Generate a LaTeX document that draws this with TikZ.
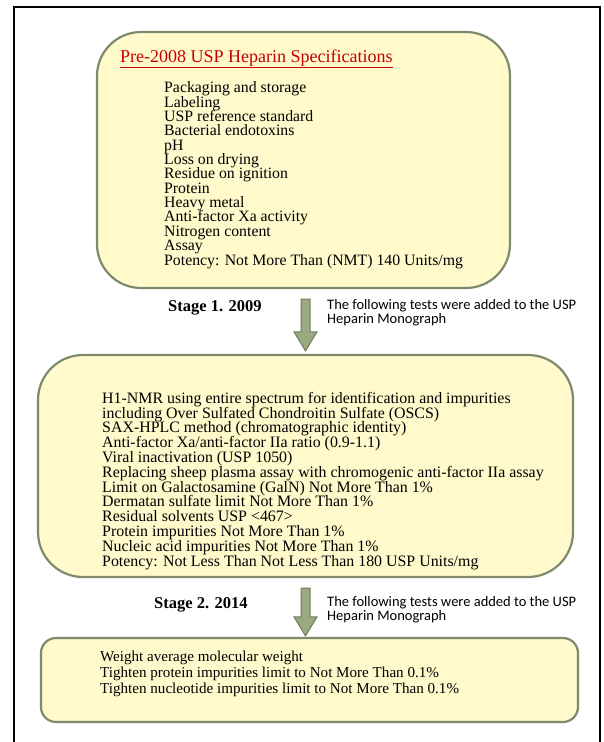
\documentclass[tikz,border=0pt]{standalone}
\usepackage{fontspec}
\setmainfont{Liberation Serif}
\newfontfamily\notefont{Carlito}
\usetikzlibrary{calc}

\definecolor{boxfill}{HTML}{FFF9CC}
\definecolor{boxline}{HTML}{7D8B6C}
\definecolor{arrowfill}{HTML}{9AA982}
\definecolor{arrowline}{HTML}{6E7E58}
\definecolor{titlered}{HTML}{C80000}

\newcommand{\tightlines}{\lineskiplimit=-20pt\relax}

\tikzset{
  specbox/.style={draw=boxline, fill=boxfill, line width=2.2pt, inner sep=0pt},
  listtext/.style={anchor=base west, align=left, inner sep=0pt},
  stagetext/.style={anchor=base west, inner sep=0pt, font=\fontsize{16.5}{18}\selectfont\bfseries},
  notetext/.style={anchor=base west, align=left, inner sep=0pt, font=\notefont\fontsize{14.5}{13.5}\selectfont},
  blockarrow/.style={draw=arrowline, fill=arrowfill, line width=1pt, line join=miter}
}

% block arrow from #1 (top of shaft) down to #2 (tip)
\newcommand{\stagearrow}[2]{%
  \draw[blockarrow] ($(#1)+(-4.5,0)$) -- ($(#2)+(-4.5,-19)$) -- ($(#2)+(-11.5,-19)$) -- (#2)
    -- ($(#2)+(11.5,-19)$) -- ($(#2)+(4.5,-19)$) -- ($(#1)+(4.5,0)$) -- cycle;}

\begin{document}
\begin{tikzpicture}[x=1pt, y=-1pt]
	\useasboundingbox (0,0) rectangle (603,742);
	
	% Outer frame (open at the bottom)
	\draw[line width=2pt] (14,742) -- (14,7) -- (600.5,7);
	\draw[line width=1.2pt] (600,7) -- (600,742);
	
	% --- BOX 1: pre-2008 specifications ---
	% (base of a multi-line node = its last line)
	\node[specbox, rounded corners=44pt, minimum width=413pt, minimum height=256pt] (box1) at (303.5,160) {};
	\node[anchor=base west, inner sep=0pt, text=titlered, font=\fontsize{18}{20}\selectfont] (title1) at (120,62)
		{\underline{Pre-2008 USP Heparin Specifications}};
	\node[listtext, font=\fontsize{15.8}{14.35}\selectfont\tightlines] (list1) at (164,265) {%
		Packaging and storage\\
		Labeling\\
		USP reference standard\\
		Bacterial endotoxins\\
		pH\\
		Loss on drying\\
		Residue on ignition\\
		Protein\\
		Heavy metal\\
		Anti-factor Xa activity\\
		Nitrogen content\\
		Assay\\
		Potency: Not More Than (NMT) 140 Units/mg};
	
	% --- STAGE 1 ---
	\node[stagetext] (stage1) at (168,311) {Stage 1. 2009};
	\node[notetext] (note1) at (327,323) {The following tests were added to the USP\\Heparin Monograph};
	
	% --- BOX 2: 2009 additions ---
	\node[specbox, rounded corners=45pt, minimum width=535pt, minimum height=222pt] (box2) at (305.5,466) {};
	\node[listtext, font=\fontsize{15.9}{14.8}\selectfont\tightlines] (list2) at (102,566) {%
		H1-NMR using entire spectrum for identification and impurities\\
		including Over Sulfated Chondroitin Sulfate (OSCS)\\
		SAX-HPLC method (chromatographic identity)\\
		Anti-factor Xa/anti-factor IIa ratio (0.9-1.1)\\
		Viral inactivation (USP 1050)\\
		Replacing sheep plasma assay with chromogenic anti-factor IIa assay\\
		Limit on Galactosamine (GalN) Not More Than 1\%\\
		Dermatan sulfate limit Not More Than 1\%\\
		Residual solvents USP <467>\\
		Protein impurities Not More Than 1\%\\
		Nucleic acid impurities Not More Than 1\%\\
		Potency: Not Less Than Not Less Than 180 USP Units/mg};
	
	% --- STAGE 2 ---
	\node[stagetext] (stage2) at (154,608) {Stage 2. 2014};
	\node[notetext] (note2) at (327,620) {The following tests were added to the USP\\Heparin Monograph};
	
	% --- BOX 3: 2014 additions ---
	\node[specbox, rounded corners=15pt, minimum width=537pt, minimum height=84pt] (box3) at (309.5,680) {};
	\node[listtext, font=\fontsize{15.1}{16}\selectfont] (list3) at (100,693) {%
		Weight average molecular weight\\
		Tighten protein impurities limit to Not More Than 0.1\%\\
		Tighten nucleotide impurities limit to Not More Than 0.1\%};
	
	% Arrows between the boxes
	\coordinate (a1s) at ($(box1.south -| box2.north)+(0,10)$);
	\coordinate (a1e) at ($(box2.north)+(0,-3)$);
	\stagearrow{a1s}{a1e}
	\coordinate (a2s) at ($(box2.south -| box2.north)+(0,10)$);
	\coordinate (a2e) at ($(box3.north -| box2.north)+(0,-1)$);
	\stagearrow{a2s}{a2e}
\end{tikzpicture}
\end{document}
